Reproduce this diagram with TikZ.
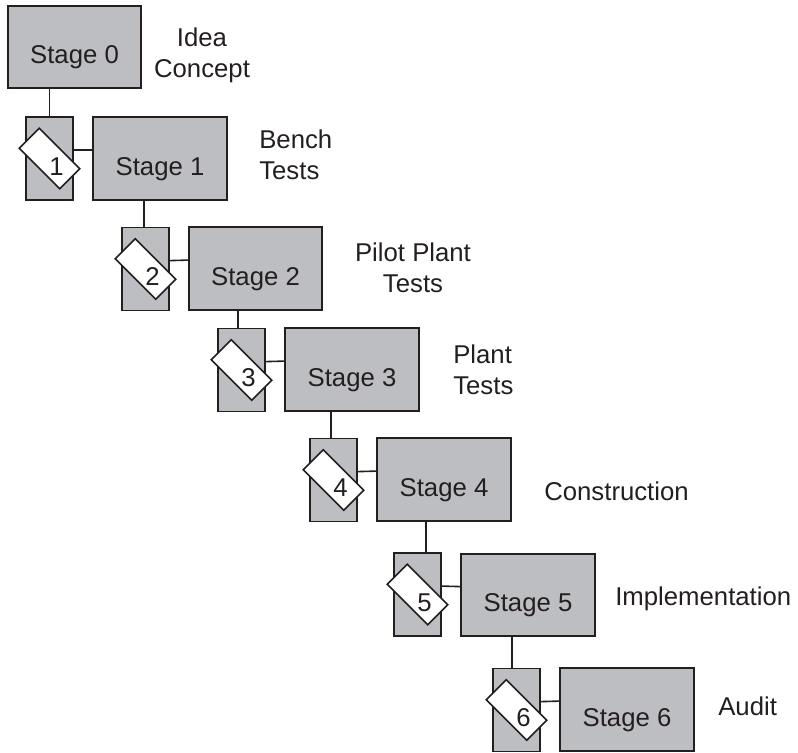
\documentclass[tikz,border=0pt]{standalone}
\usepackage{fontspec}
\setmainfont{Liberation Sans}
\usetikzlibrary{calc}
\definecolor{boxgray}{RGB}{189,190,193}
\definecolor{ink}{RGB}{35,31,32}

\begin{document}
\begin{tikzpicture}[x=0.025cm, y=-0.025cm,
	every node/.style={font=\fontsize{18.3}{21.4}\selectfont, text=ink},
	stage/.style={draw=ink, fill=boxgray, line width=0.04cm, minimum width=3.335cm, minimum height=2.06cm, text height=0.825cm, text depth=0pt},
	gate/.style={draw=ink, fill=boxgray, line width=0.04cm, minimum width=1.185cm, minimum height=2.07cm},
	tag/.style={draw=ink, fill=white, line width=0.04cm, minimum width=1.435cm, minimum height=0.71cm, rotate=-45},
	num/.style={anchor=base, inner sep=0},
	note/.style={inner sep=0, align=left, anchor=north west},
	link/.style={draw=ink, line width=0.04cm}]
			%%%%% START %%%%%
			
			\useasboundingbox (0, 0) rectangle (798, 752);
			
			\node[stage] (s0) at (74.5, 47) {Stage 0};
			\node[stage] (s1) at (160, 158.5) {Stage 1};
			\node[stage] (s2) at (255.5, 268.5) {Stage 2};
			\node[stage] (s3) at (352, 369.5) {Stage 3};
			\node[stage] (s4) at (444, 479.5) {Stage 4};
			\node[stage] (s5) at (528, 595) {Stage 5};
			\node[stage] (s6) at (627, 709.5) {Stage 6};
			
			\node[gate] (g1) at (49.5, 158.5) {};
			\node[gate] (g2) at (145.5, 269) {};
			\node[gate] (g3) at (241.5, 370) {};
			\node[gate] (g4) at (333.5, 480) {};
			\node[gate] (g5) at (417.5, 594.5) {};
			\node[gate] (g6) at (516.5, 710) {};
			
			\draw[link] (s0.south -| g1.north) -- (g1.north);
			\draw[link] ($(s1.south -| g2.north)+(-1.5, 0)$) -- ($(g2.north)+(-1.5, 0)$);
			\draw[link] ($(s2.south -| g3.north)+(-3.5, 0)$) -- ($(g3.north)+(-3.5, 0)$);
			\draw[link] ($(s3.south -| g4.north)+(-2.5, 0)$) -- ($(g4.north)+(-2.5, 0)$);
			\draw[link] ($(s4.south -| g5.north)+(8.5, 0)$) -- ($(g5.north)+(8.5, 0)$);
			\draw[link] ($(s5.south -| g6.north)+(-4.5, 0)$) -- ($(g6.north)+(-4.5, 0)$);
			
			\draw[link] ([yshift=0.21cm]g1.east) -- ([yshift=0.21cm]s1.west);
			\draw[link] ([yshift=0.21cm]g2.east) -- ([yshift=0.21cm]s2.west);
			\draw[link] ([yshift=0.21cm]g3.east) -- ([yshift=0.21cm]s3.west);
			\draw[link] ([yshift=0.21cm]g4.east) -- ([yshift=0.21cm]s4.west);
			\draw[link] ([yshift=0.21cm]g5.east) -- ([yshift=0.21cm]s5.west);
			\draw[link] ([yshift=0.21cm]g6.east) -- ([yshift=0.21cm]s6.west);
			
			\node[tag] (t1) at (g1) {};
			\node[tag] (t2) at (g2) {};
			\node[tag] (t3) at (g3) {};
			\node[tag] (t4) at (g4) {};
			\node[tag] (t5) at (g5) {};
			\node[tag] (t6) at (g6) {};
			
			\node[num] (n1) at ($(g1)+(7, 16.5)$) {1};
			\node[num] (n2) at ($(g2)+(7, 16.5)$) {2};
			\node[num] (n3) at ($(g3)+(7, 16.5)$) {3};
			\node[num] (n4) at ($(g4)+(7, 16.5)$) {4};
			\node[num] (n5) at ($(g5)+(7, 16.5)$) {5};
			\node[num] (n6) at ($(g6)+(7, 16.5)$) {6};
			
			\node[note, align=center, anchor=north] (l0) at (202, 28) {Idea\\Concept};
			\node[note] (l1) at (259, 130) {Bench\\Tests};
			\node[note, align=center, anchor=north] (l2) at (413, 243) {Pilot Plant\\Tests};
			\node[note] (l3) at (453, 345) {Plant\\Tests};
			\node[note] (l4) at (544, 482) {Construction};
			\node[note] (l5) at (615, 587) {Implementation};
			\node[note] (l6) at (718, 697) {Audit};
			
			%%%%% END %%%%%
\end{tikzpicture}
\end{document}
